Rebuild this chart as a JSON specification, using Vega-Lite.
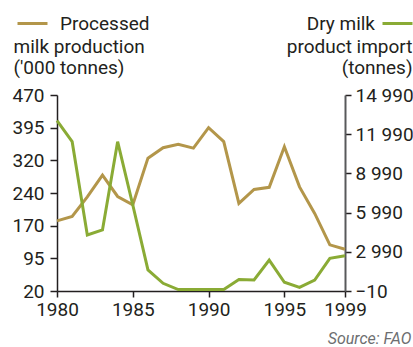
{
  "$schema": "https://vega.github.io/schema/vega-lite/v6.json",
  "width": 288,
  "height": 196,
  "autosize": {"type": "none"},
  "padding": {"left": 57, "top": 95, "right": 68, "bottom": 56},
  "background": "white",
  "config": {
    "view": {"stroke": null},
    "font": "Roboto",
    "axis": {
      "grid": false,
      "labelFont": "Roboto",
      "labelFontSize": 19,
      "labelColor": "#231f20",
      "titleFont": "Roboto",
      "titleFontSize": 19,
      "titleFontWeight": "normal",
      "titleColor": "#231f20",
      "domainColor": "#231f20",
      "tickColor": "#231f20"
    },
    "legend": {
      "orient": "none",
      "padding": 0,
      "symbolType": "stroke",
      "symbolSize": 900,
      "symbolStrokeWidth": 3,
      "labelFont": "Roboto",
      "labelFontSize": 19,
      "labelColor": "#231f20",
      "title": null
    }
  },
  "data": {
    "values": [
      {"year": 1980, "prod": 181, "imp": 13020},
      {"year": 1981, "prod": 191, "imp": 11420},
      {"year": 1982, "prod": 236, "imp": 4280},
      {"year": 1983, "prod": 286, "imp": 4660},
      {"year": 1984, "prod": 237, "imp": 11420},
      {"year": 1985, "prod": 218, "imp": 6570},
      {"year": 1986, "prod": 325, "imp": 1600},
      {"year": 1987, "prod": 349, "imp": 580},
      {"year": 1988, "prod": 357, "imp": 100},
      {"year": 1989, "prod": 348, "imp": 100},
      {"year": 1990, "prod": 395, "imp": 100},
      {"year": 1991, "prod": 363, "imp": 100},
      {"year": 1992, "prod": 221, "imp": 870},
      {"year": 1993, "prod": 253, "imp": 830},
      {"year": 1994, "prod": 258, "imp": 2360},
      {"year": 1995, "prod": 351, "imp": 660},
      {"year": 1996, "prod": 259, "imp": 270},
      {"year": 1997, "prod": 198, "imp": 830},
      {"year": 1998, "prod": 126, "imp": 2490},
      {"year": 1999, "prod": 116, "imp": 2690}
    ]
  },
  "encoding": {
    "x": {
      "field": "year",
      "type": "quantitative",
      "scale": {"domain": [1980, 1999], "nice": false, "zero": false},
      "axis": {
        "values": [1980, 1985, 1990, 1995, 1999],
        "format": "d",
        "tickSize": 6,
        "labelPadding": 3,
        "domainWidth": 1.5,
        "tickWidth": 1.5,
        "labelFlush": false,
        "title": "Source: FAO",
        "titleX": 354,
        "titleY": 52,
        "titleAlign": "right",
        "titleBaseline": "alphabetic",
        "titleFontStyle": "italic",
        "titleFontSize": 16,
        "titleColor": "#6d6e70"
      }
    }
  },
  "layer": [
    {
      "mark": {"type": "line", "strokeWidth": 3, "clip": false},
      "encoding": {
        "y": {
          "field": "prod",
          "type": "quantitative",
          "scale": {"domain": [20, 470], "nice": false, "zero": false},
          "axis": {
            "orient": "left",
            "values": [20, 95, 170, 245, 320, 395, 470],
            "labelExpr": "datum.value == 245 ? '240' : datum.label",
            "tickSize": 7,
            "labelPadding": 6,
            "domainWidth": 1.5,
            "tickWidth": 1.5,
            "labelFlush": false,
            "title": ["milk production", "('000 tonnes)"],
            "titleAngle": 0,
            "titleAlign": "left",
            "titleBaseline": "alphabetic",
            "titleX": -44,
            "titleY": -43,
            "titleLineHeight": 21.5
          }
        },
        "color": {
          "datum": "Processed",
          "type": "nominal",
          "scale": {"range": ["#b3964a"]},
          "legend": {"legendX": -41, "legendY": -88, "labelOffset": 11}
        }
      }
    },
    {
      "mark": {"type": "line", "strokeWidth": 3, "clip": false},
      "encoding": {
        "y": {
          "field": "imp",
          "type": "quantitative",
          "scale": {"domain": [-10, 14990], "nice": false, "zero": false},
          "axis": {
            "orient": "right",
            "values": [-10, 2990, 5990, 8990, 11990, 14990],
            "labelExpr": "replace(format(datum.value, ',d'), ',', ' ')",
            "tickSize": 6,
            "labelPadding": 4,
            "domainWidth": 2,
            "domainColor": "#58595b",
            "tickWidth": 1.5,
            "labelFlush": false,
            "title": ["product import", "(tonnes)"],
            "titleAngle": 0,
            "titleAlign": "right",
            "titleBaseline": "alphabetic",
            "titleX": 67,
            "titleY": -43,
            "titleLineHeight": 21.5
          }
        },
        "color": {
          "datum": "Dry milk",
          "type": "nominal",
          "scale": {"range": ["#8aab35"]},
          "legend": {"legendX": 324, "legendY": -88, "labelOffset": -39, "labelAlign": "right"}
        }
      }
    }
  ],
  "resolve": {"scale": {"y": "independent", "color": "independent"}}
}
